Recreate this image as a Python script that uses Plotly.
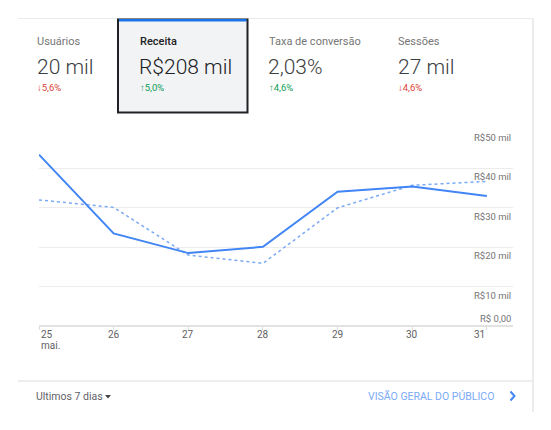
import plotly.graph_objects as go

# --- data (values in R$ mil) ---
days = ["25", "26", "27", "28", "29", "30", "31"]
month_label = "mai."
receita_atual = [43.5, 23.5, 18.5, 20.1, 34.1, 35.4, 33.0]
receita_anterior = [32.0, 30.1, 18.0, 15.9, 30.0, 35.7, 36.7]
y_ticks = [0, 10, 20, 30, 40, 50]
y_tick_labels = ["R$ 0,00", "R$10 mil", "R$20 mil", "R$30 mil", "R$40 mil", "R$50 mil"]

metric_names = ["Usuários", "Receita", "Taxa de conversão", "Sessões"]
metric_values = ["20 mil", "R$208 mil", "2,03%", "27 mil"]
metric_changes = ["5,6%", "5,0%", "4,6%", "4,6%"]
metric_up = [False, True, True, False]

# the page body adds 8px around the plot, so the figure is 8px smaller
OFF = 8
W, H = 551 - OFF, 430 - OFF
L, R, T, B = 39 - OFF, 38, 129 - OFF, 104
PW, PH = W - L - R, H - T - B


def px(x):
    return (x - OFF - L) / PW


def py(y):
    return (H - B - (y - OFF)) / PH


FONT = "Roboto, Arial, sans-serif"
GRID = "#ececec"

fig = go.Figure()

fig.add_scatter(
    x=list(range(len(days))),
    y=receita_anterior,
    mode="lines",
    line=dict(color="#7aaaf5", width=1.5, dash="dot"),
    hoverinfo="skip",
)
fig.add_scatter(
    x=list(range(len(days))),
    y=receita_atual,
    mode="lines",
    line=dict(color="#4285f4", width=2),
    hoverinfo="skip",
)

fig.update_layout(
    width=W,
    height=H,
    margin=dict(l=L, r=R, t=T, b=B),
    paper_bgcolor="white",
    plot_bgcolor="white",
    showlegend=False,
    font=dict(family=FONT),
)
fig.update_xaxes(
    range=[0, 6.35],
    tickvals=list(range(len(days))),
    showticklabels=False,
    ticks="outside",
    ticklen=3,
    tickcolor="#dcdcdc",
    showgrid=False,
    zeroline=False,
    showline=False,
)
fig.update_yaxes(
    range=[0, 50],
    tickvals=y_ticks,
    showticklabels=False,
    showgrid=True,
    gridcolor=GRID,
    gridwidth=1,
    zeroline=True,
    zerolinecolor="#e2e2e2",
    zerolinewidth=1.5,
)

# y labels sit just under each gridline, the zero label just above it
for v, lab in zip(y_ticks, y_tick_labels):
    fig.add_annotation(
        x=1, xref="paper", y=v, yref="y",
        text=lab, showarrow=False,
        xanchor="right", yanchor="bottom" if v == 0 else "top",
        yshift=0 if v == 0 else -1,
        font=dict(size=9.5, color="#757575"),
    )

# x labels: first left aligned, last right aligned
for i, d in enumerate(days):
    anchor = "left" if i == 0 else ("right" if i == len(days) - 1 else "center")
    fig.add_annotation(
        x=i, xref="x", y=0, yref="y",
        text=d, showarrow=False,
        xanchor=anchor, yanchor="middle", yshift=-8,
        font=dict(size=10, color="#616161"),
    )
fig.add_annotation(
    x=0, xref="x", y=0, yref="y",
    text=month_label, showarrow=False,
    xanchor="left", yanchor="middle", yshift=-19,
    font=dict(size=10, color="#616161"),
)

# card outline
fig.add_shape(type="line", xref="paper", yref="paper",
              x0=px(18), x1=px(533), y0=py(18.5), y1=py(18.5),
              line=dict(color="#ebebeb", width=1))
fig.add_shape(type="line", xref="paper", yref="paper",
              x0=px(533), x1=px(533), y0=py(18.5), y1=py(412),
              line=dict(color="#e6e6e6", width=1.5))
fig.add_shape(type="line", xref="paper", yref="paper",
              x0=px(18), x1=px(533), y0=py(381), y1=py(381),
              line=dict(color="#e8e8e8", width=1.5))

# selected tab
fig.add_shape(type="rect", xref="paper", yref="paper",
              x0=px(118), x1=px(247.5), y0=py(19.5), y1=py(112.5),
              fillcolor="#f1f3f4", line=dict(color="#202124", width=2))
fig.add_shape(type="rect", xref="paper", yref="paper",
              x0=px(119), x1=px(246.5), y0=py(19), y1=py(21.5),
              fillcolor="#1a73e8", line=dict(width=0))

tab_x = [35, 137.5, 266.5, 396]
for i in range(len(metric_names)):
    sel = i == 1
    fig.add_annotation(
        x=px(tab_x[i]), y=py(41.7), xref="paper", yref="paper",
        text=metric_names[i], showarrow=False, xanchor="left", yanchor="middle",
        font=dict(size=11, color="#212121" if sel else "#757575",
                  weight=500 if sel else 400),
    )
    fig.add_annotation(
        x=px(tab_x[i] - 0.5), y=py(67), xref="paper", yref="paper",
        text=metric_values[i], showarrow=False, xanchor="left", yanchor="middle",
        font=dict(size=21, color="#202124" if sel else "#3c4043", weight=300),
    )
    arrow = "↑" if metric_up[i] else "↓"
    fig.add_annotation(
        x=px(tab_x[i]), y=py(87), xref="paper", yref="paper",
        text="<b>" + arrow + "</b>" + metric_changes[i], showarrow=False,
        xanchor="left", yanchor="middle",
        font=dict(size=9.5, color="#0f9d58" if metric_up[i] else "#db4437"),
    )

# footer
fig.add_annotation(
    x=px(34), y=py(396), xref="paper", yref="paper",
    text="Ultimos 7 dias", showarrow=False, xanchor="left", yanchor="middle",
    font=dict(size=10.5, color="#5f6368"),
)
fig.add_shape(type="path", xref="paper", yref="paper",
              path="M {} {} L {} {} L {} {} Z".format(px(105), py(395), px(111), py(395), px(108), py(398.5)),
              fillcolor="#444", line=dict(width=0))
fig.add_annotation(
    x=px(496), y=py(396), xref="paper", yref="paper",
    text="VISÃO GERAL DO PÚBLICO", showarrow=False, xanchor="right",
    yanchor="middle",
    font=dict(size=10.5, color="#7baaf7"),
)
fig.add_shape(type="path", xref="paper", yref="paper",
              path="M {} {} L {} {} L {} {}".format(px(510.5), py(391.5), px(514.5), py(396), px(510.5), py(400.5)),
              line=dict(color="#4285f4", width=2))

fig.write_html("out.html")
